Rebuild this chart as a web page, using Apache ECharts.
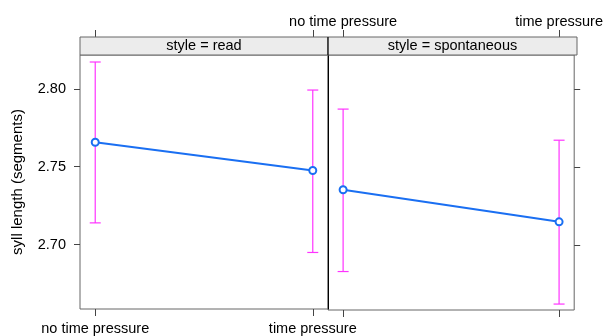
<!DOCTYPE html>
<html>
<head>
<meta charset="utf-8">
<script src="https://cdn.jsdelivr.net/npm/echarts@6/dist/echarts.min.js"></script>
<style>
  html, body { margin: 0; padding: 0; background: #fff; }
  #chart { width: 606px; height: 336px; }
</style>
</head>
<body>
<div id="chart"></div>
<script>
// categories on x
var conditions = ['no time pressure', 'time pressure'];
var panels = ['style = read', 'style = spontaneous'];
// fitted values + confidence limits, per panel
var readFit = [2.7657, 2.7475];
var readLower = [2.7139, 2.6949];
var readUpper = [2.8172, 2.7992];
var spontFit = [2.7355, 2.7150];
var spontLower = [2.6832, 2.6624];
var spontUpper = [2.7871, 2.7672];
// y tick labels
var yTicks = [2.70, 2.75, 2.80];

var FONT = 'Liberation Sans, Arial, sans-serif';
var LINE = '#1a6ff2';
var BAR = '#ff33ff';
var TICK = '#444';

function pts(arr) {
    return arr.map(function (v, i) { return [i + 1, v]; });
}
function bars(lo, hi) {
    return lo.map(function (v, i) { return [i + 1, v, hi[i]]; });
}
function xLabel(v) { return conditions[v - 1] || ''; }

function xAxisCfg(grid, pos, labels, offset) {
    return {
        type: 'value', gridIndex: grid, position: pos, offset: offset || 0,
        min: 0.93, max: 2.07,
        axisLine: { show: false },
        splitLine: { show: false },
        axisTick: { show: true, length: 7, customValues: [1, 2], lineStyle: { color: TICK } },
        axisLabel: {
            show: labels, customValues: [1, 2], margin: pos == 'top' ? 8 : 12, formatter: xLabel,
            color: '#000', fontSize: 14.5, fontFamily: FONT
        }
    };
}

function yAxisCfg(grid, pos, labels) {
    return {
        type: 'value', gridIndex: grid, position: pos,
        min: 2.6586, max: 2.8217,
        axisLine: { show: false },
        splitLine: { show: false },
        axisTick: { show: true, length: 6, customValues: yTicks, lineStyle: { color: TICK } },
        axisLabel: {
            show: labels, customValues: yTicks, margin: 14,
            formatter: function (v) { return v.toFixed(2); },
            color: '#000', fontSize: 14.5, fontFamily: FONT
        }
    };
}

// error bars drawn as whisker with caps
function errRender(params, api) {
    var x = api.value(0);
    var lo = api.coord([x, api.value(1)]);
    var hi = api.coord([x, api.value(2)]);
    var w = 5.5;
    var st = { stroke: BAR, lineWidth: 1.2 };
    return {
        type: 'group',
        children: [
            { type: 'line', shape: { x1: lo[0], y1: lo[1], x2: hi[0], y2: hi[1] }, style: st },
            { type: 'line', shape: { x1: lo[0] - w, y1: lo[1], x2: lo[0] + w, y2: lo[1] }, style: st },
            { type: 'line', shape: { x1: hi[0] - w, y1: hi[1], x2: hi[0] + w, y2: hi[1] }, style: st }
        ]
    };
}

function fitSeries(idx, data) {
    return {
        type: 'line', xAxisIndex: idx * 2, yAxisIndex: idx * 2, z: 5,
        data: pts(data), symbol: 'emptyCircle', symbolSize: 7,
        lineStyle: { color: LINE, width: 2 },
        itemStyle: { color: LINE, borderColor: LINE, borderWidth: 2 },
        animation: false
    };
}

function errSeries(idx, lo, hi) {
    return {
        type: 'custom', xAxisIndex: idx * 2, yAxisIndex: idx * 2, z: 2,
        data: bars(lo, hi), renderItem: errRender, animation: false
    };
}

var chart = echarts.init(document.getElementById('chart'));
var stripY = 37, stripH = 18;

var option = {
    backgroundColor: '#fff',
    animation: false,
    grid: [
        { left: 80, top: 55, width: 248, height: 255, show: true, borderColor: '#666', borderWidth: 1, backgroundColor: 'transparent' },
        { left: 328, top: 55, width: 249, height: 255, show: true, borderColor: '#666', borderWidth: 1, backgroundColor: 'transparent' }
    ],
    xAxis: [
        xAxisCfg(0, 'bottom', true),
        xAxisCfg(0, 'top', false, stripH),
        xAxisCfg(1, 'bottom', false),
        xAxisCfg(1, 'top', true, stripH)
    ],
    yAxis: [
        Object.assign(yAxisCfg(0, 'left', true), {
            name: 'syll length (segments)', nameLocation: 'middle', nameGap: 55, nameRotate: 90,
            nameTextStyle: { color: '#000', fontSize: 15, fontFamily: FONT }
        }),
        // black divider between the panels
        {
            type: 'value', gridIndex: 0, position: 'right', z: 6,
            min: 2.6586, max: 2.8217,
            axisLine: { show: true, lineStyle: { color: '#000', width: 1 } },
            axisTick: { show: false }, axisLabel: { show: false }, splitLine: { show: false }
        },
        yAxisCfg(1, 'right', false),
        {
            type: 'value', gridIndex: 1, position: 'left', show: false,
            min: 2.6586, max: 2.8217
        }
    ],
    graphic: [
        {
            type: 'rect', shape: { x: 80, y: stripY, width: 248, height: stripH },
            style: { fill: '#ececec', stroke: '#666', lineWidth: 1 }, z: 10
        },
        {
            type: 'rect', shape: { x: 328, y: stripY, width: 249, height: stripH },
            style: { fill: '#ececec', stroke: '#666', lineWidth: 1 }, z: 10
        },
        {
            type: 'text', x: 204, y: stripY + stripH / 2, z: 11,
            style: { text: panels[0], fill: '#000', fontSize: 14.5, fontFamily: FONT, align: 'center', verticalAlign: 'middle' }
        },
        {
            type: 'text', x: 452.5, y: stripY + stripH / 2, z: 11,
            style: { text: panels[1], fill: '#000', fontSize: 14.5, fontFamily: FONT, align: 'center', verticalAlign: 'middle' }
        },
        // divider through the strip
        {
            type: 'line', shape: { x1: 328, y1: stripY, x2: 328, y2: stripY + stripH }, z: 12,
            style: { stroke: '#000', lineWidth: 1 }
        }
    ],
    series: [
        errSeries(0, readLower, readUpper),
        fitSeries(0, readFit),
        errSeries(1, spontLower, spontUpper),
        fitSeries(1, spontFit)
    ]
};

chart.setOption(option);
</script>
</body>
</html>
